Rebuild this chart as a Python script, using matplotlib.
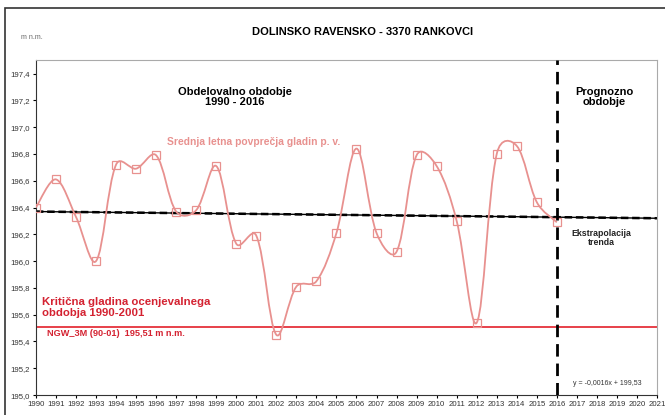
import numpy as np
import matplotlib.pyplot as plt
from matplotlib.path import Path
from matplotlib.patches import PathPatch, Rectangle

plt.rcParams['font.family'] = ['Liberation Sans', 'DejaVu Sans']

# podatki
leta = list(range(1990, 2017))
gladine = [196.40, 196.61, 196.33, 196.00, 196.72, 196.69, 196.79, 196.37, 196.38,
           196.71, 196.13, 196.19, 195.45, 195.81, 195.85, 196.21, 196.84, 196.21,
           196.07, 196.79, 196.71, 196.30, 195.54, 196.80, 196.86, 196.44, 196.29]
trend_leta = [1990, 2021]
trend_vrednosti = [196.37, 196.32]
ngw = 195.51
meja_obdobja = 2016
leta_os = list(range(1990, 2022))
y_ticki = [195.0, 195.2, 195.4, 195.6, 195.8, 196.0, 196.2, 196.4, 196.6, 196.8,
           197.0, 197.2, 197.4]

roza = "#e8918f"
rdeca = "#e3202b"


def gladka_pot(x, y, sx=20.0, sy=134.0, mix=0.5):
    # gladka črta (Catmull-Rom, ročice delno utežene z dolžino segmentov v px)
    x = np.asarray(x, float)
    y = np.asarray(y, float)
    P = np.column_stack([x * sx, y * sy])
    n = len(x)
    seg = np.hypot(*np.diff(P, axis=0).T)
    levo, desno = [], []
    for i in range(n):
        a = max(i - 1, 0)
        b = min(i + 1, n - 1)
        T = P[b] - P[a]
        if i == 0 or i == n - 1:
            w_l = w_d = 1 / 3
        else:
            Ll, Ld = seg[i - 1], seg[i]
            w_l = (1 - mix) / 3 + mix * Ll / (Ll + Ld) * 2 / 3
            w_d = (1 - mix) / 3 + mix * Ld / (Ll + Ld) * 2 / 3
        levo.append(P[i] - T * w_l / 2)
        desno.append(P[i] + T * w_d / 2)
    verts = [(x[0], y[0])]
    codes = [Path.MOVETO]
    for i in range(n - 1):
        c1, c2 = desno[i], levo[i + 1]
        verts += [(c1[0] / sx, c1[1] / sy), (c2[0] / sx, c2[1] / sy), (x[i + 1], y[i + 1])]
        codes += [Path.CURVE4] * 3
    return Path(verts, codes)


fig = plt.figure(figsize=(6.65, 4.15), dpi=100)
ax = fig.add_axes([0.054, 0.048, 0.934, 0.807])

# okvir slike
fig.patches.append(Rectangle((0.008, -0.01), 1.0, 0.99, transform=fig.transFigure,
                             fill=False, edgecolor="#333333", linewidth=1.2))

ax.add_patch(PathPatch(gladka_pot(leta, gladine), facecolor="none",
                       edgecolor=roza, linewidth=1.3, zorder=3))
ax.plot(leta, gladine, linestyle="none", marker="s", markersize=5.5,
        markerfacecolor="none", markeredgecolor=roza, markeredgewidth=0.9, zorder=4)

# trend
ax.plot(trend_leta, trend_vrednosti, color="black", linewidth=1.0, zorder=2)
ax.plot(trend_leta, trend_vrednosti, color="black", linewidth=1.8,
        linestyle=(0, (3, 1.5)), zorder=2)
ax.axhline(ngw, color=rdeca, linewidth=1.2, zorder=2)
ax.axvline(meja_obdobja, color="black", linewidth=2.0, linestyle=(0, (4.5, 2.5)), zorder=5)

ax.set_xlim(1990, 2021)
ax.set_ylim(195.0, 197.5)
ax.set_xticks(leta_os)
ax.set_xticklabels([str(l) for l in leta_os], fontsize=5.6, color="#333333")
ax.set_yticks(y_ticki)
ax.set_yticklabels([f"{v:.1f}".replace(".", ",") for v in y_ticki],
                   fontsize=5.6, color="#333333")
ax.tick_params(length=2.5, width=0.8, pad=2)
for s in ["top", "right"]:
    ax.spines[s].set_color("#aaaaaa")
for s in ["left", "bottom"]:
    ax.spines[s].set_color("#333333")

# besedila
fig.text(0.545, 0.922, "DOLINSKO RAVENSKO - 3370 RANKOVCI", ha="center", va="center",
         fontsize=8, fontweight="bold")
fig.text(0.032, 0.91, "m n.m.", ha="left", va="center", fontsize=5, color="#666666")
ax.text(0.32, 0.89, "Obdelovalno obdobje\n1990 - 2016", transform=ax.transAxes,
        ha="center", va="center", fontsize=8, fontweight="bold", linespacing=1.0)
ax.text(0.915, 0.89, "Prognozno\nobdobje", transform=ax.transAxes,
        ha="center", va="center", fontsize=8, fontweight="bold", linespacing=1.0)
ax.text(0.35, 0.755, "Srednja letna povprečja gladin p. v.", transform=ax.transAxes,
        ha="center", va="center", fontsize=7.4, fontweight="bold", color=roza)
ax.text(0.91, 0.47, "Ekstrapolacija\ntrenda", transform=ax.transAxes,
        ha="center", va="center", fontsize=6.3, fontweight="bold", color="#222222",
        linespacing=1.0)
ax.text(0.01, 0.262, "Kritična gladina ocenjevalnega\nobdobja 1990-2001",
        transform=ax.transAxes, ha="left", va="center", fontsize=8.2,
        fontweight="bold", color="#d42231", linespacing=1.1)
ax.text(0.018, 0.185, "NGW_3M (90-01)  195,51 m n.m.", transform=ax.transAxes,
        ha="left", va="center", fontsize=6.6, fontweight="bold", color="#d42231")
ax.text(0.92, 0.035, "y = -0,0016x + 199,53", transform=ax.transAxes,
        ha="center", va="center", fontsize=5, color="#333333")

fig.savefig("out.png", dpi=100)
